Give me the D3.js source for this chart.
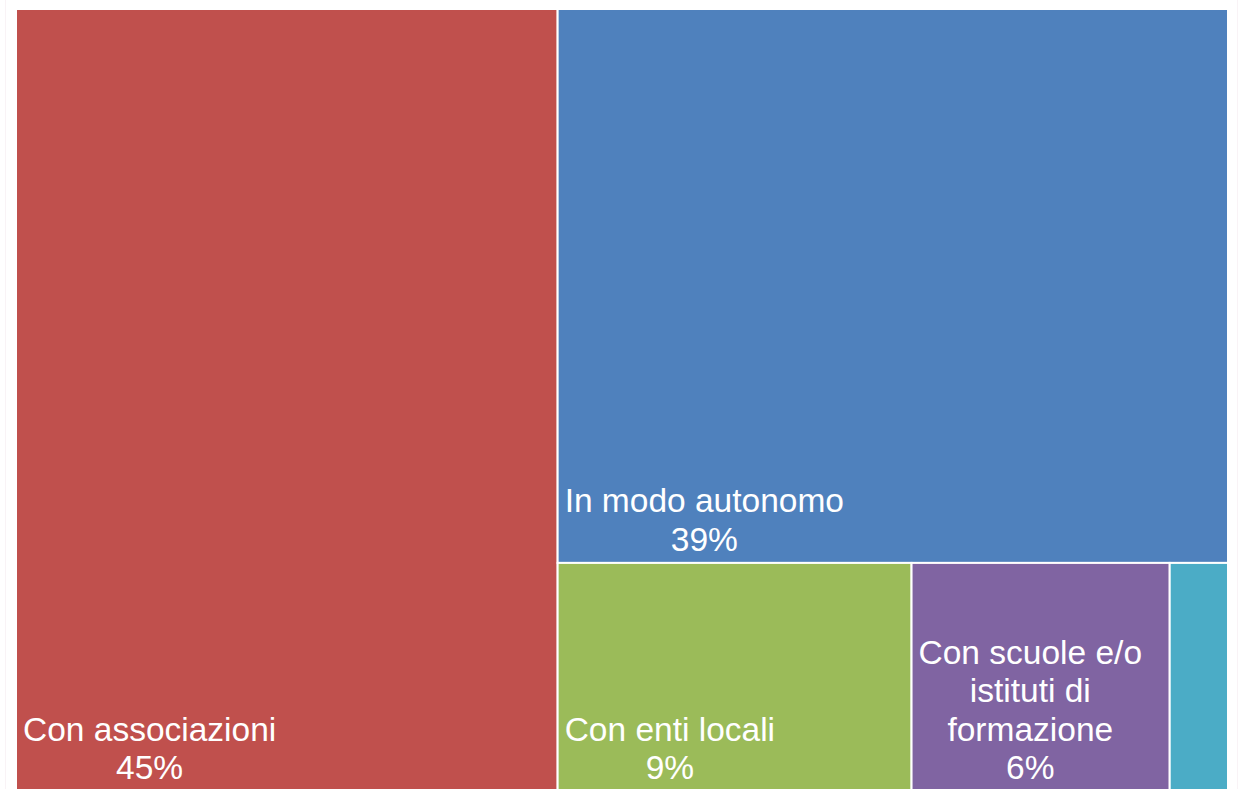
<!DOCTYPE html>
<html>
<head>
<meta charset="utf-8">
<script src="https://cdn.jsdelivr.net/npm/d3@7"></script>
<style>
  body { margin: 0; background: #fff; }
  text { font-family: "Liberation Sans", Arial, sans-serif; }
</style>
</head>
<body>
<div id="chart"></div>
<script>
const width = 1250,
  height = 789;

// data
const categories = ['Con associazioni', 'In modo autonomo', 'Con enti locali',
  'Con scuole e/o istituti di formazione', 'Altro'];
const shares = [44.6, 39.1, 8.5, 6.2, 1.4];
const colors = ['#C0504D', '#4F81BD', '#9BBB59', '#8064A2', '#4BACC6'];

const plot = {x0: 16, y0: 9, x1: 1228, y1: 791};
const fontSize = 33.5,
  lineHeight = 38.5,
  labelPad = 7;

let svg = d3.select('#chart').append('svg')
  .attr('width', width)
  .attr('height', height);

// faint chart-area border
svg.append('rect')
  .attr('x', 5.5).attr('y', -2)
  .attr('width', 1232).attr('height', 800)
  .attr('fill', 'none')
  .attr('stroke', '#f9f3f6');

let data = categories.map((c, i) => ({name: c, value: shares[i], color: colors[i]}));

let root = d3.hierarchy({children: data})
  .sum(d => d.value || 0);

d3.treemap()
  .tile(d3.treemapBinary)
  .size([plot.x1 - plot.x0, plot.y1 - plot.y0])
  (root);

let g = svg.append('g')
  .attr('transform', 'translate(' + plot.x0 + ',' + plot.y0 + ')');

let cells = g.selectAll('g.cell')
  .data(root.leaves())
  .enter().append('g')
  .attr('class', 'cell');

cells.append('rect')
  .attr('x', d => d.x0)
  .attr('y', d => d.y0)
  .attr('width', d => d.x1 - d.x0)
  .attr('height', d => d.y1 - d.y0)
  .attr('fill', d => d.data.color)
  .attr('stroke', '#fff')
  .attr('stroke-width', 2);

// measuring helper
let meas = svg.append('text')
  .attr('font-size', fontSize)
  .attr('visibility', 'hidden');
function textWidth(s) {
  meas.text(s);
  return meas.node().getComputedTextLength();
}

cells.each(function(d) {
  let avail = (d.x1 - d.x0) - 2 * labelPad;
  let words = d.data.name.split(' ');
  let lines = [], cur = '';
  let ok = true;
  words.forEach(w => {
    if (textWidth(w) > avail) ok = false;
    let test = cur ? cur + ' ' + w : w;
    if (textWidth(test) <= avail) cur = test;
    else { lines.push(cur); cur = w; }
  });
  if (cur) lines.push(cur);
  if (!ok) return;
  lines.push(Math.round(d.data.value) + '%');

  let blockW = d3.max(lines, l => textWidth(l));
  let cx = d.x0 + labelPad + blockW / 2;
  let lastY = d.y1 - 12;

  d3.select(this).selectAll('text')
    .data(lines)
    .enter().append('text')
    .attr('x', cx)
    .attr('y', (l, i) => lastY - (lines.length - 1 - i) * lineHeight)
    .attr('text-anchor', 'middle')
    .attr('font-size', fontSize)
    .attr('fill', '#fff')
    .text(l => l);
});

meas.remove();
</script>
</body>
</html>
